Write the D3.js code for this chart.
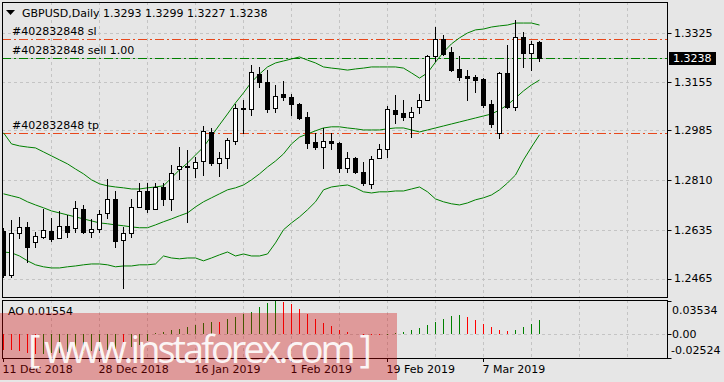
<!DOCTYPE html>
<html>
<head>
<meta charset="utf-8">
<script src="https://cdn.jsdelivr.net/npm/d3@7"></script>
<style>
  body { margin: 0; background: #e6e6e6; }
  svg { display: block; font-family: "DejaVu Sans", sans-serif; font-size: 11px; }
</style>
</head>
<body>
<div id="chart"></div>
<script>
// GBPUSD daily, 11 Dec 2018 - 18 Mar 2019
var dates = [
  "2018-12-11","2018-12-12","2018-12-13","2018-12-14",
  "2018-12-17","2018-12-18","2018-12-19","2018-12-20","2018-12-21",
  "2018-12-24","2018-12-26","2018-12-27","2018-12-28",
  "2018-12-31","2019-01-02","2019-01-03","2019-01-04",
  "2019-01-07","2019-01-08","2019-01-09","2019-01-10","2019-01-11",
  "2019-01-14","2019-01-15","2019-01-16","2019-01-17","2019-01-18",
  "2019-01-21","2019-01-22","2019-01-23","2019-01-24","2019-01-25",
  "2019-01-28","2019-01-29","2019-01-30","2019-01-31","2019-02-01",
  "2019-02-04","2019-02-05","2019-02-06","2019-02-07","2019-02-08",
  "2019-02-11","2019-02-12","2019-02-13","2019-02-14","2019-02-15",
  "2019-02-18","2019-02-19","2019-02-20","2019-02-21","2019-02-22",
  "2019-02-25","2019-02-26","2019-02-27","2019-02-28","2019-03-01",
  "2019-03-04","2019-03-05","2019-03-06","2019-03-07","2019-03-08",
  "2019-03-11","2019-03-12","2019-03-13","2019-03-14","2019-03-15",
  "2019-03-18"
];

var open = [1.2630,1.2478,1.2625,1.2646,1.2594,1.2611,1.2632,1.2608,1.2650,1.2643,
  1.2709,1.2629,1.2639,1.2695,1.2744,1.2600,1.2625,1.2716,1.2772,1.2709,
  1.2786,1.2744,1.2849,1.2860,1.2853,1.2877,1.2979,1.2870,1.2888,1.2947,
  1.3063,1.3060,1.3182,1.3154,1.3063,1.3112,1.3102,1.3077,1.3032,1.2944,
  1.2926,1.2947,1.2940,1.2853,1.2888,1.2839,1.2797,1.2888,1.2919,1.3056,
  1.3046,1.3032,1.3067,1.3091,1.3245,1.3305,1.3259,1.3200,1.3175,1.3172,
  1.3165,1.3077,1.2976,1.3186,1.3067,1.3312,1.3256,1.3293];

var high = [1.2643,1.2671,1.2681,1.2664,1.2629,1.2709,1.2678,1.2702,1.2688,1.2737,
  1.2723,1.2674,1.2706,1.2814,1.2772,1.2646,1.2744,1.2800,1.2800,1.2800,
  1.2800,1.2863,1.2926,1.2916,1.2891,1.3000,1.2993,1.2909,1.2958,1.3077,
  1.3091,1.3214,1.3207,1.3196,1.3144,1.3158,1.3112,1.3081,1.3049,1.2976,
  1.2993,1.2976,1.2944,1.2909,1.2891,1.2874,1.2895,1.2937,1.3070,1.3109,
  1.3091,1.3067,1.3112,1.3249,1.3347,1.3319,1.3277,1.3245,1.3196,1.3179,
  1.3168,1.3091,1.3189,1.3284,1.3372,1.3330,1.3298,1.3299];

var low = [1.2471,1.2471,1.2608,1.2523,1.2576,1.2608,1.2597,1.2608,1.2611,1.2629,
  1.2625,1.2611,1.2629,1.2678,1.2576,1.2432,1.2611,1.2716,1.2699,1.2709,
  1.2723,1.2706,1.2814,1.2664,1.2821,1.2828,1.2863,1.2825,1.2853,1.2937,
  1.2976,1.3039,1.3137,1.3049,1.3049,1.3091,1.3039,1.3025,1.2923,1.2919,
  1.2853,1.2919,1.2839,1.2839,1.2835,1.2793,1.2783,1.2888,1.2891,1.3011,
  1.3021,1.2961,1.3046,1.3091,1.3228,1.3249,1.3193,1.3161,1.3091,1.3119,
  1.3067,1.2997,1.2958,1.3063,1.3056,1.3207,1.3196,1.3227];

var close = [1.2478,1.2625,1.2646,1.2576,1.2614,1.2636,1.2604,1.2650,1.2629,1.2713,
  1.2629,1.2639,1.2692,1.2744,1.2597,1.2625,1.2716,1.2772,1.2709,1.2786,
  1.2744,1.2835,1.2860,1.2856,1.2874,1.2983,1.2870,1.2888,1.2951,1.3063,
  1.3060,1.3189,1.3154,1.3060,1.3105,1.3102,1.3077,1.3028,1.2940,1.2926,
  1.2947,1.2940,1.2853,1.2888,1.2839,1.2800,1.2884,1.2919,1.3060,1.3042,
  1.3032,1.3049,1.3091,1.3245,1.3305,1.3252,1.3196,1.3172,1.3168,1.3161,
  1.3074,1.3007,1.3186,1.3067,1.3312,1.3256,1.3288,1.3238];

// Bollinger bands (20)
var bbUpper = [1.2976,1.2937,1.2930,1.2926,1.2923,1.2909,1.2895,1.2881,1.2867,1.2849,
  1.2832,1.2811,1.2797,1.2790,1.2786,1.2783,1.2779,1.2779,1.2783,1.2786,
  1.2790,1.2818,1.2846,1.2870,1.2898,1.2926,1.2965,1.3004,1.3042,1.3081,
  1.3116,1.3154,1.3182,1.3207,1.3221,1.3228,1.3235,1.3242,1.3231,1.3221,
  1.3207,1.3203,1.3200,1.3196,1.3200,1.3203,1.3207,1.3207,1.3207,1.3207,
  1.3203,1.3186,1.3168,1.3186,1.3224,1.3259,1.3288,1.3309,1.3326,1.3337,
  1.3340,1.3347,1.3351,1.3354,1.3361,1.3361,1.3361,1.3354];

var bbMiddle = [1.2762,1.2755,1.2748,1.2734,1.2723,1.2713,1.2702,1.2695,1.2688,1.2681,
  1.2674,1.2667,1.2660,1.2657,1.2653,1.2650,1.2646,1.2643,1.2643,1.2653,
  1.2664,1.2674,1.2685,1.2695,1.2716,1.2734,1.2748,1.2762,1.2776,1.2783,
  1.2793,1.2811,1.2832,1.2856,1.2877,1.2902,1.2937,1.2961,1.2972,1.2983,
  1.2993,1.2997,1.2997,1.2993,1.2990,1.2986,1.2986,1.2986,1.2990,1.2993,
  1.2993,1.2986,1.2979,1.2986,1.2993,1.3000,1.3007,1.3014,1.3021,1.3028,
  1.3035,1.3042,1.3056,1.3074,1.3098,1.3123,1.3144,1.3161];

var bbLower = [1.2558,1.2555,1.2544,1.2527,1.2513,1.2506,1.2502,1.2502,1.2506,1.2509,
  1.2513,1.2516,1.2516,1.2513,1.2506,1.2509,1.2509,1.2513,1.2513,1.2516,
  1.2544,1.2537,1.2534,1.2537,1.2537,1.2527,1.2537,1.2548,1.2558,1.2544,
  1.2551,1.2544,1.2544,1.2551,1.2590,1.2636,1.2660,1.2681,1.2706,1.2734,
  1.2776,1.2786,1.2790,1.2793,1.2783,1.2769,1.2765,1.2769,1.2769,1.2772,
  1.2772,1.2779,1.2786,1.2769,1.2744,1.2734,1.2727,1.2723,1.2730,1.2741,
  1.2748,1.2758,1.2776,1.2800,1.2828,1.2881,1.2926,1.2969];

// Awesome Oscillator
var ao = [-0.0165,-0.0172,-0.0180,-0.0195,-0.0210,-0.0205,-0.0200,-0.0196,-0.0190,-0.0188,
  -0.0186,-0.0183,-0.0178,-0.0170,-0.0160,-0.0165,-0.0140,-0.0110,-0.0070,0.0010,
  0.0020,0.0043,0.0060,0.0078,0.0095,0.0115,0.0135,0.0128,0.0160,0.0180,
  0.0215,0.0240,0.0285,0.0330,0.03534,0.0345,0.0320,0.0270,0.0213,0.0167,
  0.0124,0.0085,0.0050,0.0020,0.0007,-0.0003,-0.0008,-0.0012,-0.0005,0.0008,
  0.0025,0.0040,0.0067,0.0103,0.0131,0.0160,0.0191,0.0202,0.0184,0.0149,
  0.0113,0.0078,0.0043,0.0032,0.0043,0.0078,0.0106,0.01554];

var priceTicks = [1.3325, 1.3155, 1.2985, 1.2810, 1.2635, 1.2465];
var aoTicks = [0.03534, 0.00, -0.02524];
var dateTicks = ["2018-12-11","2018-12-28","2019-01-16","2019-02-01","2019-02-19","2019-03-07"];

var orderId = "402832848";
var slPrice = 1.3304;
var sellPrice = 1.3238;
var tpPrice = 1.2975;

var svgWidth = 724;
var svgHeight = 382;

var main = { left: 2, top: 2, right: 667, bottom: 297 };
var sub = { left: 2, top: 300, right: 667, bottom: 358 };

var svg = d3.select("#chart")
  .append("svg")
  .attr("width", svgWidth)
  .attr("height", svgHeight);

svg.append("rect")
  .attr("width", svgWidth)
  .attr("height", svgHeight)
  .attr("fill", "#e6e6e6");

// scales
var xScale = d3.scaleLinear().domain([0, 83]).range([3, 667]);
var yScale = d3.scaleLinear().domain([1.2465, 1.3325]).range([278.5, 33.3]);
var aoScale = d3.scaleLinear().domain([-0.02524, 0.03534]).range([358, 301]);

var px = i => Math.round(xScale(i)) + 0.5;
var fmt4 = d3.format(".4f");
var fmt5 = v => d3.format(".5f")(v).replace("\u2212", "-");
var parseDate = d3.timeParse("%Y-%m-%d");
var fmtDate = d3.timeFormat("%-d %b %Y");

var defs = svg.append("defs");
defs.append("clipPath").attr("id", "clipMain")
  .append("rect").attr("x", main.left + 1).attr("y", main.top + 1)
  .attr("width", main.right - main.left - 1).attr("height", main.bottom - main.top - 1);
defs.append("clipPath").attr("id", "clipSub")
  .append("rect").attr("x", sub.left + 1).attr("y", sub.top + 1)
  .attr("width", sub.right - sub.left - 1).attr("height", sub.bottom - sub.top - 1);

// grid
var gridIdx = d3.range(6, 84, 6);
var gridColor = "#c4c4c4";

var mainG = svg.append("g").attr("clip-path", "url(#clipMain)");
var subG = svg.append("g").attr("clip-path", "url(#clipSub)");

mainG.selectAll(".vgrid").data(gridIdx).enter().append("line")
  .attr("x1", d => px(d)).attr("x2", d => px(d))
  .attr("y1", main.top).attr("y2", main.bottom)
  .attr("stroke", gridColor).attr("stroke-dasharray", "3,3");
subG.selectAll(".vgrid").data(gridIdx).enter().append("line")
  .attr("x1", d => px(d)).attr("x2", d => px(d))
  .attr("y1", sub.top).attr("y2", sub.bottom)
  .attr("stroke", gridColor).attr("stroke-dasharray", "3,3");

mainG.selectAll(".hgrid").data(priceTicks).enter().append("line")
  .attr("x1", main.left).attr("x2", main.right)
  .attr("y1", d => Math.round(yScale(d)) + 0.5).attr("y2", d => Math.round(yScale(d)) + 0.5)
  .attr("stroke", gridColor).attr("stroke-dasharray", "3,3");

subG.append("line")
  .attr("x1", sub.left).attr("x2", sub.right)
  .attr("y1", Math.round(aoScale(0)) + 0.5).attr("y2", Math.round(aoScale(0)) + 0.5)
  .attr("stroke", gridColor).attr("stroke-dasharray", "3,3");

// bid line
mainG.append("line")
  .attr("x1", main.left).attr("x2", main.right)
  .attr("y1", Math.round(yScale(close[close.length - 1])) + 0.5)
  .attr("y2", Math.round(yScale(close[close.length - 1])) + 0.5)
  .attr("stroke", "#c0c0c0");

// order lines
var orderLines = [
  { price: slPrice, color: "#e8481c", label: "#" + orderId + " sl" },
  { price: sellPrice, color: "#008000", label: "#" + orderId + " sell 1.00" },
  { price: tpPrice, color: "#e8481c", label: "#" + orderId + " tp" }
];
mainG.selectAll(".order").data(orderLines).enter().append("line")
  .attr("x1", main.left).attr("x2", main.right)
  .attr("y1", d => Math.round(yScale(d.price)) + 0.5)
  .attr("y2", d => Math.round(yScale(d.price)) + 0.5)
  .attr("stroke", d => d.color)
  .attr("stroke-dasharray", "9,3,2,3");
mainG.selectAll(".orderLabel").data(orderLines).enter().append("text")
  .attr("x", 12)
  .attr("y", d => Math.round(yScale(d.price)) - 4)
  .attr("fill", "#000")
  .text(d => d.label);

// bollinger bands
var bandLine = d3.line().x((d, i) => px(i)).y(d => yScale(d));
[bbUpper, bbMiddle, bbLower].forEach(function(band) {
  mainG.append("path")
    .attr("d", bandLine(band))
    .attr("fill", "none")
    .attr("stroke", "#008000")
    .attr("stroke-width", 1);
});

// candles
var bars = d3.range(dates.length);
mainG.selectAll(".wick").data(bars).enter().append("line")
  .attr("x1", px).attr("x2", px)
  .attr("y1", i => Math.round(yScale(high[i])))
  .attr("y2", i => Math.round(yScale(low[i])) + 1)
  .attr("stroke", "#000");

mainG.selectAll(".body").data(bars).enter().append("rect")
  .attr("x", i => px(i) - 2)
  .attr("width", 4)
  .attr("y", i => Math.round(yScale(Math.max(open[i], close[i]))) + 0.5)
  .attr("height", i => Math.max(1, Math.round(yScale(Math.min(open[i], close[i]))) - Math.round(yScale(Math.max(open[i], close[i])))))
  .attr("fill", i => close[i] >= open[i] ? "#ffffff" : "#000000")
  .attr("stroke", "#000");

// AO bars
subG.selectAll(".ao").data(bars).enter().append("line")
  .attr("x1", px).attr("x2", px)
  .attr("y1", Math.round(aoScale(0)))
  .attr("y2", i => Math.round(aoScale(ao[i])))
  .attr("stroke", i => (i > 0 && ao[i] > ao[i - 1]) ? "#008000" : "#ff0000");

// frames
svg.append("rect")
  .attr("x", main.left + 0.5).attr("y", main.top + 0.5)
  .attr("width", main.right - main.left).attr("height", main.bottom - main.top)
  .attr("fill", "none").attr("stroke", "#000");
svg.append("rect")
  .attr("x", sub.left + 0.5).attr("y", sub.top + 0.5)
  .attr("width", sub.right - sub.left).attr("height", sub.bottom - sub.top)
  .attr("fill", "none").attr("stroke", "#000");

// price axis
var priceAxis = svg.append("g");
priceAxis.selectAll("line").data(priceTicks).enter().append("line")
  .attr("x1", main.right + 0.5).attr("x2", main.right + 4.5)
  .attr("y1", d => Math.round(yScale(d)) + 0.5).attr("y2", d => Math.round(yScale(d)) + 0.5)
  .attr("stroke", "#000");
priceAxis.selectAll("text").data(priceTicks).enter().append("text")
  .attr("x", 674)
  .attr("y", d => yScale(d))
  .attr("dy", "0.36em")
  .attr("fill", "#000")
  .text(d => fmt4(d));

// current price tag
var lastY = Math.round(yScale(close[close.length - 1]));
svg.append("rect")
  .attr("x", 669).attr("y", lastY - 6)
  .attr("width", 47).attr("height", 13)
  .attr("fill", "#000");
svg.append("text")
  .attr("x", 673).attr("y", lastY)
  .attr("dy", "0.36em")
  .attr("fill", "#fff")
  .text(fmt4(close[close.length - 1]));

// AO axis
var aoLabelY = [310, 334, 350];
svg.selectAll(".aoTick").data(aoTicks).enter().append("line")
  .attr("x1", sub.right + 0.5).attr("x2", sub.right + 4.5)
  .attr("y1", d => Math.round(aoScale(d)) + 0.5).attr("y2", d => Math.round(aoScale(d)) + 0.5)
  .attr("stroke", "#000");
svg.selectAll(".aoLabel").data(aoTicks).enter().append("text")
  .attr("x", d => d < 0 ? 671 : 672)
  .attr("y", (d, i) => aoLabelY[i])
  .attr("dy", "0.36em")
  .attr("fill", "#000")
  .text(d => d === 0 ? "0.00" : fmt5(d));

// time axis
var tickIdx = dateTicks.map(d => dates.indexOf(d));
svg.selectAll(".tTick").data(tickIdx).enter().append("line")
  .attr("x1", px).attr("x2", px)
  .attr("y1", sub.bottom).attr("y2", sub.bottom + 4)
  .attr("stroke", "#000");
svg.selectAll(".tLabel").data(tickIdx).enter().append("text")
  .attr("x", i => px(i) - 1)
  .attr("y", 373)
  .attr("fill", "#000")
  .text(i => fmtDate(parseDate(dates[i])));

// header
svg.append("path")
  .attr("d", "M6,10 L15,10 L10.5,15 Z")
  .attr("fill", "#000");
svg.append("text")
  .attr("x", 22).attr("y", 17)
  .attr("fill", "#000")
  .text("GBPUSD,Daily");
var n = close.length - 1;
svg.append("text")
  .attr("x", 103).attr("y", 17)
  .attr("fill", "#000")
  .text([open[n], high[n], low[n], close[n]].map(fmt4).join(" "));

svg.append("text")
  .attr("x", 8).attr("y", 315)
  .attr("fill", "#000")
  .text("AO " + fmt5(ao[n]));

// watermark
svg.append("rect")
  .attr("x", 0).attr("y", 313)
  .attr("width", 397).attr("height", 67)
  .attr("fill", "#d00000")
  .attr("opacity", 0.33);
svg.append("text")
  .attr("x", 28).attr("y", 363)
  .attr("textLength", 344)
  .attr("lengthAdjust", "spacing")
  .attr("fill", "#ffffff")
  .attr("opacity", 0.9)
  .style("font-family", "'Open Sans', sans-serif")
  .style("font-size", "38px")
  .text("[ www.instaforex.com ]");
</script>
</body>
</html>
